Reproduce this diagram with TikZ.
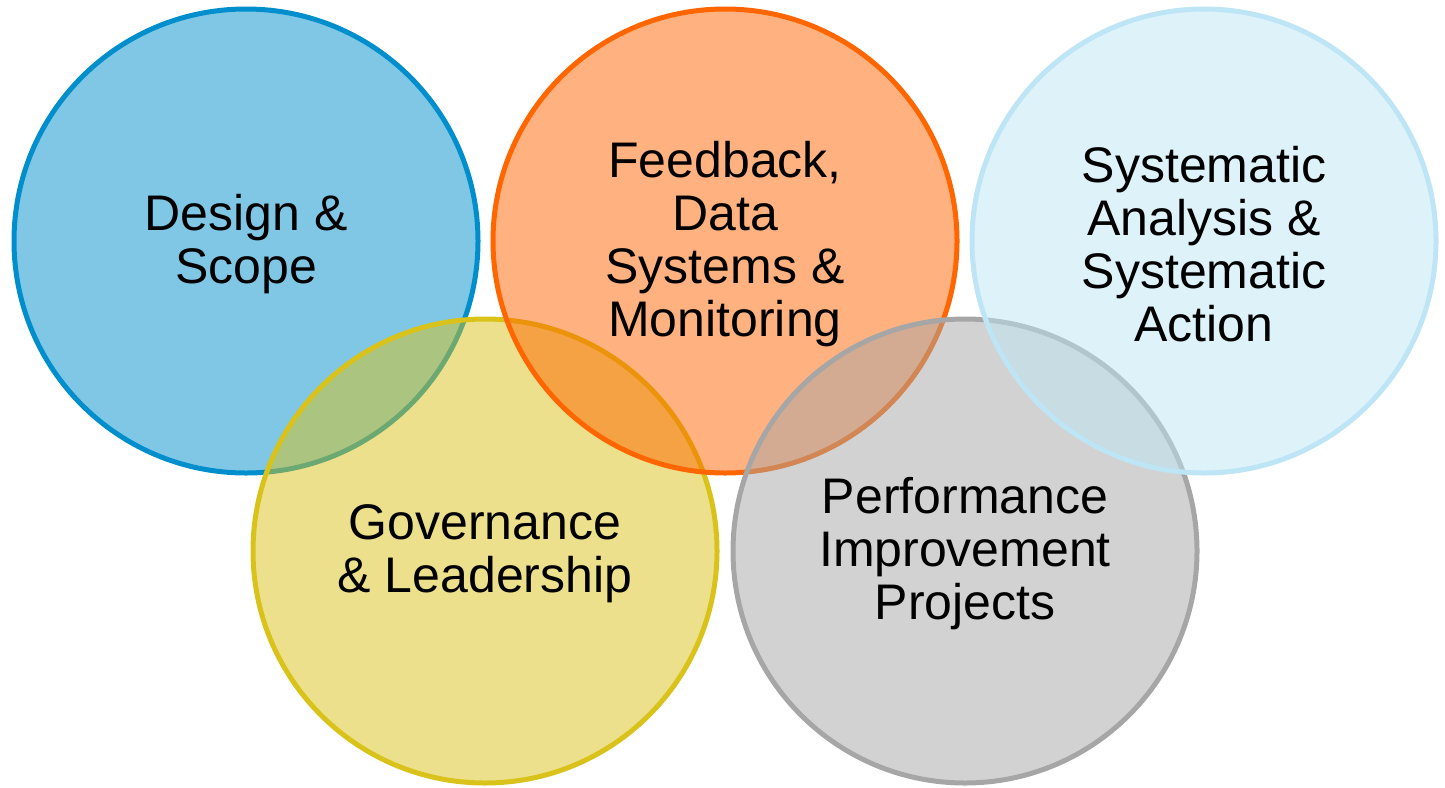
\documentclass[tikz,border=0pt]{standalone}
\usepackage{fontspec}
\setmainfont{Liberation Sans}
\definecolor{cBlue}{RGB}{0,143,204}
\definecolor{cOrange}{RGB}{255,102,0}
\definecolor{cSky}{RGB}{189,229,245}
\definecolor{cYellow}{RGB}{217,194,26}
\definecolor{cGray}{RGB}{166,166,166}
\tikzset{
  ring/.style={line width=5pt, draw=#1, fill=#1, fill opacity=0.5, draw opacity=1},
  label/.style={align=center, text=black, font=\fontsize{50}{53}\selectfont, inner sep=0pt}
}
\begin{document}
\begin{tikzpicture}[x=1pt,y=-1pt]
  \useasboundingbox (0,0) rectangle (1445,787);
  % circles, in stacking order
  \path[ring=cBlue]   (246,241) circle (232pt);
  \path[ring=cYellow] (485,551) circle (232pt);
  \path[ring=cOrange] (725,241) circle (232pt);
  \path[ring=cGray]   (965,551) circle (232pt);
  \path[ring=cSky]    (1204,241) circle (232pt);
  % labels
  \node[label] (design) at (246,244) {Design \&\\Scope};
  \node[label] (feedback) at (725,244) {Feedback,\\Data\\Systems \&\\Monitoring};
  \node[label] (analysis) at (1204,244) {Systematic\\Analysis \&\\Systematic\\Action};
  \node[label] (governance) at (485,554) {Governance\\\& Leadership};
  \node[label] (projects) at (965,554) {Performance\\Improvement\\Projects};
\end{tikzpicture}
\end{document}
